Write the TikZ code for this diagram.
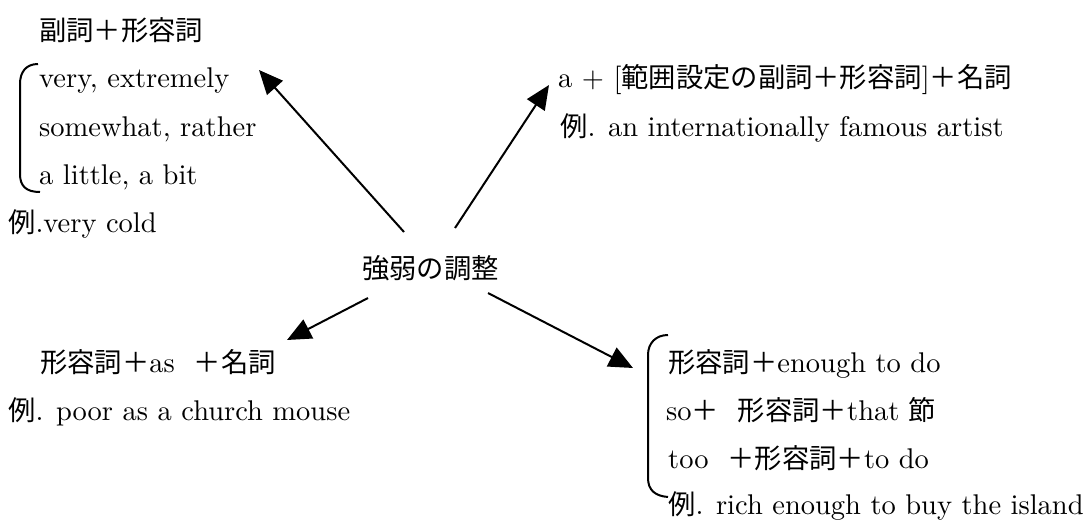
\documentclass[tikz,border=0pt]{standalone}
\usepackage{fontspec}
\setmainfont{lmroman10-regular.otf}
\newfontfamily\jp{Noto Sans CJK JP}[Scale=0.958]
\usetikzlibrary{arrows.meta}
\tikzset{
  txt/.style={anchor=base west, inner sep=0pt, font=\fontsize{28.5}{34}\selectfont},
  arr/.style={line width=2pt, -{Triangle[length=24pt,width=21pt]}},
  brk/.style={line width=2pt}
}
\begin{document}
\begin{tikzpicture}[x=1pt,y=-1pt]
\useasboundingbox (0,0) rectangle (1091,522);
% upper left
\node[txt] (h1) at (39,40) {{\jp 副詞＋形容詞}};
\node[txt] (l1) at (39,87) {very, extremely};
\node[txt] (l2) at (39,136) {somewhat, rather};
\node[txt] (l3) at (39,184) {a little, a bit};
\node[txt] (e1) at (8,232) {{\jp 例}.very cold};
% upper right
\node[txt] (h2) at (558,87) {a + [{\jp 範囲設定の副詞＋形容詞}]{\jp ＋名詞}};
\node[txt] (e2) at (560,136) {{\jp 例}. an internationally famous artist};
% centre
\node[txt] (c) at (362,278) {{\jp 強弱の調整}};
% lower left
\node[txt] (h3) at (40,372) {{\jp 形容詞＋}as\ \ {\jp ＋名詞}};
\node[txt] (e3) at (8,420) {{\jp 例}. poor as a church mouse};
% lower right
\node[txt] (r1) at (668,372) {{\jp 形容詞＋}enough to do};
\node[txt] (r2) at (666,420) {so{\jp ＋}\ \ {\jp 形容詞＋}that\ {\jp 節}};
\node[txt] (r3) at (668,468) {too\ \ {\jp ＋形容詞＋}to do};
\node[txt] (e4) at (668,514) {{\jp 例}. rich enough to buy the island};
% brackets
\draw[brk] (38,64) .. controls (26,64) and (20,72) .. (20,84) -- (20,174) .. controls (20,186) and (26,192) .. (40,192);
\draw[brk] (668,335) .. controls (656,335) and (648,343) .. (648,355) -- (648,478) .. controls (648,490) and (655,496) .. (668,497);
% arrow end points
\coordinate (t1) at (404,232);
\coordinate (p1) at (259,70);
\coordinate (t2) at (455,228);
\coordinate (p2) at (549,85);
\coordinate (t3) at (368,298);
\coordinate (p3) at (287,340);
\coordinate (t4) at (488,293);
\coordinate (p4) at (633,368);
\draw[arr] (t1) -- (p1);
\draw[arr] (t2) -- (p2);
\draw[arr] (t3) -- (p3);
\draw[arr] (t4) -- (p4);
\end{tikzpicture}
\end{document}
